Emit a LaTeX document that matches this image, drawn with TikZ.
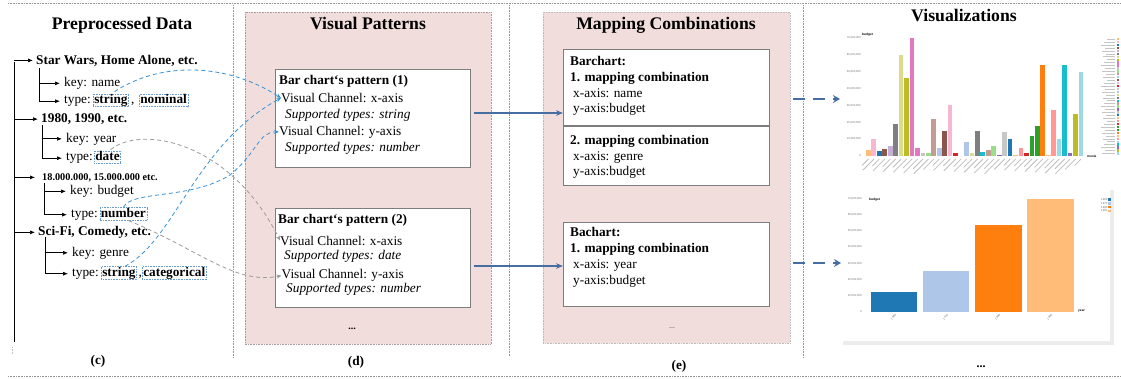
\documentclass[tikz,border=0pt]{standalone}
\usepackage{fontspec}
\setmainfont{Liberation Serif}
\newfontfamily\chartfont{Liberation Sans}
\usetikzlibrary{arrows.meta,calc,shadows}

\definecolor{panelpink}{RGB}{241,221,219}
\definecolor{panelline}{RGB}{165,155,155}
\definecolor{sepline}{RGB}{150,150,150}
\definecolor{flowblue}{RGB}{70,110,160}
\definecolor{linkblue}{RGB}{55,145,215}
\definecolor{linkgray}{RGB}{155,155,155}
\definecolor{tagline}{RGB}{105,155,205}
\definecolor{boxline}{RGB}{125,125,125}
\definecolor{ticktext}{RGB}{110,110,110}
\definecolor{framegray}{RGB}{236,236,236}
% category palette of the charts
\definecolor{tabblue}{HTML}{1F77B4}
\definecolor{tablblue}{HTML}{AEC7E8}
\definecolor{taborange}{HTML}{FF7F0E}
\definecolor{tablorange}{HTML}{FFBB78}
\definecolor{tabgreen}{HTML}{2CA02C}
\definecolor{tablgreen}{HTML}{98DF8A}
\definecolor{tabred}{HTML}{D62728}
\definecolor{tablred}{HTML}{FF9896}
\definecolor{tabpurple}{HTML}{9467BD}
\definecolor{tablpurple}{HTML}{C5B0D5}
\definecolor{tabbrown}{HTML}{8C564B}
\definecolor{tablbrown}{HTML}{C49C94}
\definecolor{tabpink}{HTML}{E377C2}
\definecolor{tablpink}{HTML}{F7B6D2}
\definecolor{tabgray}{HTML}{7F7F7F}
\definecolor{tablgray}{HTML}{C7C7C7}
\definecolor{tabolive}{HTML}{BCBD22}
\definecolor{tablolive}{HTML}{DBDB8D}
\definecolor{tabcyan}{HTML}{17BECF}
\definecolor{tablcyan}{HTML}{9EDAE5}

\newcommand{\bodysize}{\fontsize{13.3}{16}\selectfont}

\tikzset{
  body/.style={anchor=base west, inner sep=0pt, font=\bodysize},
  bodyb/.style={body, font=\bodysize\bfseries},
  bodyi/.style={body, font=\bodysize\itshape},
  heading/.style={anchor=base, inner sep=0pt, font=\fontsize{17.7}{20}\selectfont\bfseries},
  panellabel/.style={anchor=base, inner sep=0pt, font=\bodysize\bfseries},
  tag/.style={anchor=base west, draw=tagline, densely dotted, line width=0.6pt,
    inner xsep=1pt, inner ysep=0.8pt, text height=8.6pt, text depth=2.4pt, font=\bodysize\bfseries},
  branch/.style={line width=0.7pt, -{Latex[length=5pt,width=4pt]}},
  stem/.style={line width=0.7pt},
  separator/.style={sepline, line width=0.6pt, densely dotted},
  panel/.style={fill=panelpink, draw=panelline, line width=0.6pt, densely dotted, inner sep=0pt, anchor=north west},
  cardbox/.style={fill=white, draw=boxline, line width=1.1pt, inner sep=0pt, anchor=north west,
    drop shadow={shadow xshift=0.9pt, shadow yshift=-0.9pt, fill=black!35}},
  flow/.style={flowblue, line width=1.4pt, -{Stealth[length=7pt,width=5.5pt]}},
  linkb/.style={linkblue, line width=0.8pt, dash pattern=on 4pt off 3pt, -{Stealth[length=5pt,width=4pt]}},
  linkg/.style={linkgray, line width=0.8pt, dash pattern=on 4pt off 3pt, -{Stealth[length=5pt,width=4pt]}},
  vizarrow/.style={flowblue, line width=2.2pt, dash pattern=on 12pt off 8pt, -{Stealth[length=7pt,width=8pt]}},
  ticklab/.style={font=\chartfont\fontsize{2.8}{3}\selectfont, text=ticktext, inner sep=0pt},
  axisname/.style={font=\chartfont\bfseries\fontsize{3.2}{4}\selectfont, inner sep=0pt},
}

\begin{document}
\begin{tikzpicture}[x=1pt,y=-1pt]
\useasboundingbox (0,0) rectangle (1121,378);
\fill[white] (0,0) rectangle (1121,378);

% frame rules and column separators
\draw[separator] (8,3) -- (1121,3);
\draw[separator] (8,376) -- (1121,376);
\draw[separator] (233,5) -- (233,358);
\draw[separator] (509,5) -- (509,356);
\draw[separator] (803,5) -- (803,358);

% ---------------- (c) preprocessed data tree ----------------
\node[heading] (hc) at (122,29.5) {Preprocessed Data};
\coordinate (trunktop) at (14,62);
\coordinate (trunkbot) at (14,342);
\draw[stem] (trunktop) -- (trunkbot);
\draw[sepline!60, densely dotted, line width=0.6pt] (12,347) -- (12,354);

\node[bodyb] (sw) at (36,64) {Star Wars, Home Alone, etc.};
\draw[branch] (trunktop |- sw.west) -- ([xshift=-3pt]sw.west);
\coordinate (st1) at (39,68);
\node[body] (k1) at (64,86.5) {key: name};
\node[body] (t1) at (64,103.5) {type:};
\node[tag] (s1) at (93,103.5) {string};
\node[body] (cm1) at (131,103.5) {,};
\node[tag] (n1) at (139,103.5) {nominal};
\draw[branch] (st1) |- ([xshift=-4pt]k1.west);
\draw[branch] (st1) |- ([xshift=-4pt]t1.west);

\node[bodyb] (yr) at (41,122.5) {1980, 1990, etc.};
\draw[branch] (trunktop |- yr.west) -- ([xshift=-3pt]yr.west);
\coordinate (st2) at (42,125);
\node[body] (k2) at (66,142) {key: year};
\node[body] (t2) at (66,160.5) {type:};
\node[tag] (d2) at (94,160.5) {date};
\draw[branch] (st2) |- ([xshift=-4pt]k2.west);
\draw[branch] (st2) |- ([xshift=-4pt]t2.west);

\node[anchor=base west, inner sep=0pt, font=\fontsize{10.3}{12}\selectfont\bfseries] (bg) at (42,180) {18.000.000, 15.000.000 etc.};
\draw[branch] (trunktop |- bg.west) -- ([xshift=-7pt]bg.west);
\coordinate (st3) at (44,183);
\node[body] (k3) at (70,194.5) {key: budget};
\node[body] (t3) at (71,217) {type:};
\node[tag] (nb) at (99.5,217) {number};
\draw[branch] (st3) |- ([xshift=-4pt]k3.west);
\draw[branch] (st3) |- ([xshift=-4pt]t3.west);

\node[bodyb] (sf) at (38,235.5) {Sci-Fi, Comedy, etc.};
\draw[branch] (trunktop |- sf.west) -- ([xshift=-3pt]sf.west);
\coordinate (st4) at (45,237);
\node[body] (k4) at (72,256) {key: genre};
\node[body] (t4) at (72,276) {type:};
\node[tag] (s4) at (101,276) {string};
\node[body] (cm4) at (138.5,276) {,};
\node[tag] (c4) at (142,276) {categorical};
\draw[branch] (st4) |- ([xshift=-4pt]k4.west);
\draw[branch] (st4) |- ([xshift=-4pt]t4.west);

\node[panellabel] (lc) at (98,364.5) {(c)};

% ---------------- (d) visual patterns ----------------
\node[panel, minimum width=246pt, minimum height=332pt] (pd) at (244.5,12) {};
\node[heading] (hd) at (368,29.5) {Visual Patterns};

\node[cardbox, minimum width=195pt, minimum height=98pt] (pat1) at (274.5,69) {};
\node[bodyb] (pt1) at (279,84.5) {Bar chart‘s pattern (1)};
\node[body]  (vc1x) at (281,102.5) {Visual Channel: x-axis};
\node[bodyi] (sp1x) at (285,118.5) {Supported types: string};
\node[body]  (vc1y) at (279,135) {Visual Channel: y-axis};
\node[bodyi] (sp1y) at (285,151) {Supported types: number};

\node[cardbox, minimum width=195pt, minimum height=98.5pt] (pat2) at (274.5,208) {};
\node[bodyb] (pt2) at (278,223.8) {Bar chart‘s pattern (2)};
\node[body]  (vc2x) at (280,245) {Visual Channel: x-axis};
\node[bodyi] (sp2x) at (284,259.5) {Supported types: date};
\node[body]  (vc2y) at (281.5,278.8) {Visual Channel: y-axis};
\node[bodyi] (sp2y) at (286,292.8) {Supported types: number};

\node[anchor=base, inner sep=0pt, font=\fontsize{10}{12}\selectfont\bfseries] (md) at (352,329) {...};
\node[panellabel] (ld) at (356,365) {(d)};

% ---------------- (e) mapping combinations ----------------
\node[panel, minimum width=246.5pt, minimum height=331pt, draw=panelline!70] (pe) at (543,12) {};
\node[heading] (he) at (666,29) {Mapping Combinations};

\node[cardbox, minimum width=206pt, minimum height=136pt] (map1) at (563,49) {};
\coordinate (divy) at (0,126);
\draw[boxline, line width=1.1pt] (map1.west |- divy) -- (map1.east |- divy);
\node[bodyb] (m1a) at (570,65.5) {Barchart:};
\node[bodyb] (m1b) at (570,81.5) {1. mapping combination};
\node[body]  (m1c) at (573,97.5) {x-axis: name};
\node[body]  (m1d) at (573,112.5) {y-axis:budget};
\node[bodyb] (m1e) at (570,144.5) {2. mapping combination};
\node[body]  (m1f) at (573,160.5) {x-axis: genre};
\node[body]  (m1g) at (573,175.5) {y-axis:budget};

\node[cardbox, minimum width=206pt, minimum height=84pt] (map2) at (563,222) {};
\node[bodyb] (m2a) at (570,236.5) {Bachart:};
\node[bodyb] (m2b) at (570,252.5) {1. mapping combination};
\node[body]  (m2c) at (573,268.5) {x-axis: year};
\node[body]  (m2d) at (573,284.5) {y-axis:budget};

\node[anchor=base, inner sep=0pt, font=\fontsize{8}{10}\selectfont, text=black!70] (me) at (672,328) {...};
\node[panellabel] (le) at (679,369) {(e)};

% pattern -> mapping
\coordinate (fa1) at (0,113);
\coordinate (fa2) at (0,266);
\draw[flow, shorten <=3pt] (pat1.east |- fa1) -- (map1.west |- fa1);
\draw[flow, shorten <=3pt] (pat2.east |- fa2) -- (map2.west |- fa2);

% ---------------- visualizations ----------------
\node[anchor=base, inner sep=0pt, font=\fontsize{17.7}{20}\selectfont\bfseries] (hv) at (964,21.5) {Visualizations};

% budget per movie
\node[axisname, anchor=base west] (c1y) at (862,35.5) {budget};
\foreach \k in {0,...,7} {
  \pgfmathsetmacro{\yy}{156-16.9*\k}
  \pgfmathtruncatemacro{\vv}{10*\k}
  \node[ticklab, anchor=east] at (861,\yy) {\ifnum\vv=0 0\else\vv,000,000\fi};
}
\foreach \h/\c [count=\i from 0] in {3.5/tablorange,10/tablpink,3/tabblue,4/tabbrown,6/tablpurple,
    19/tabgray,60/tablolive,46/tabolive,70/tabpink,4.5/tabpink,1.5/tablgray,2/tablgreen,22/tablbrown,
    5/tablblue,15/tabbrown,30/tablpink,2/tabred,0/tablgray,8/tablblue,2/tablolive,15/tabgray,
    2.5/tabcyan,3.5/tablbrown,6/tablgreen,0.3/tabpurple,14/tablgray,10/tabblue,0.6/tablorange,
    5/tablred,2/tabred,12/tabgreen,18/tabgreen,54/taborange,0.5/tablorange,27/tablred,10/tablcyan,
    54/tabcyan,2/tabpurple,25/tabolive,50/tablcyan} {
  \fill[\c] ({866+5.45*\i},156) rectangle ++(4.7,{-1.69*\h});
  \pgfmathsetmacro{\ll}{9+mod(\i*7,13)}
  \draw[ticktext!45, line width=0.8pt] ({868.5+5.45*\i},159) -- ++({-0.7*\ll},{0.7*\ll});
  \fill[\c] (1116.5,{38+2.93*\i}) rectangle ++(2.3,2.3);
  \pgfmathsetmacro{\lw}{8+mod(\i*3,7)}
  \draw[ticktext!40, line width=0.6pt] ({1115-\lw},{39.2+2.93*\i}) -- ++(\lw,0);
}
\node[axisname, anchor=west] (c1x) at (1087,156) {movie};

% budget per year
\fill[framegray] (843,341) rectangle (1114,345);
\fill[framegray] (1110,190) rectangle (1114,345);
\node[axisname, anchor=base west] (c2y) at (869,200) {budget};
\foreach \k in {0,...,7} {
  \pgfmathsetmacro{\yy}{311.7-16.14*\k}
  \pgfmathtruncatemacro{\vv}{10*\k}
  \node[ticklab, anchor=east] at (862,\yy) {\ifnum\vv=0 0\else\vv,000,000\fi};
}
\foreach \h/\c/\yr [count=\i from 0] in {12/tabblue/1960,25/tablblue/1970,54/taborange/1980,70/tablorange/1990} {
  \fill[\c] ({870.7+52.1*\i},311.7) rectangle ++(46.6,{-1.614*\h});
  \node[ticklab, anchor=north east, rotate=45] at ({895+52.1*\i},314) {\yr};
  \node[ticklab, anchor=west] at (1101,{199.3+3.9*\i}) {\yr};
  \fill[\c] (1108,{198.1+3.9*\i}) rectangle ++(2.5,2.5);
}
\node[axisname, anchor=west] (c2x) at (1078,311) {year};

\node[anchor=base, inner sep=0pt, font=\fontsize{12}{14}\selectfont\bfseries] (mv) at (981,367) {...};

% mapping -> visualization
\coordinate (va1) at (840,99);
\coordinate (va2) at (841,263);
\draw[vizarrow, shorten <=3pt] (pe.east |- va1) -- (va1);
\draw[vizarrow, shorten <=3pt] (pe.east |- va2) -- (va2);

% data attributes -> visual channels
\draw[linkb] ($(k1.south east)+(-6,2)$) .. controls (160,62) and (225,62) .. (vc1x.west);
\draw[linkb] ($(s4.north)+(6,0)$) .. controls (175,240) and (195,145) .. (vc1x.west);
\draw[linkb] (nb.north) .. controls (132,190) and (190,200) .. (230,175)
             .. controls (258,152) and (258,132) .. (vc1y.west);
\draw[linkg] ($(d2.north)+(3,-1)$) .. controls (140,125) and (230,140) .. (vc2x.west);
\draw[linkg] ($(nb.south)+(5,0)$) .. controls (200,250) and (235,285) .. (vc2y.west);

\end{tikzpicture}
\end{document}
